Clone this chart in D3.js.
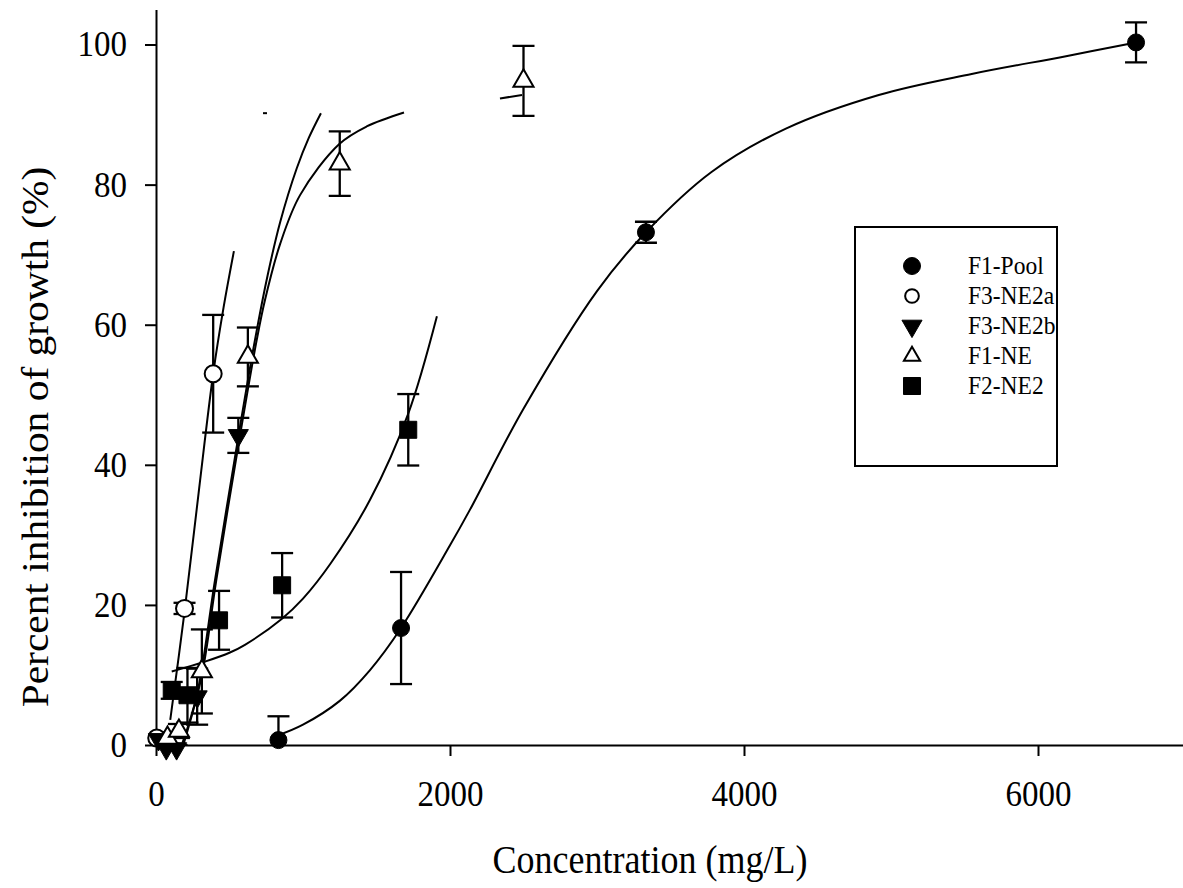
<!DOCTYPE html>
<html>
<head>
<meta charset="utf-8">
<script src="https://cdnjs.cloudflare.com/ajax/libs/d3/7.8.5/d3.min.js"></script>
<style>
  body { margin: 0; background: #fff; }
  svg { display: block; font-family: "Times New Roman", "Liberation Serif", serif; }
</style>
</head>
<body>
<svg id="chart" width="1183" height="888"></svg>
<script>
// measured points (concentration mg/L, % inhibition, +/- error)
const f1PoolX = [833, 1667, 3333, 6667];
const f1PoolY = [0.7, 16.7, 73.2, 100.3];
const f1PoolErr = [3.4, 8.0, 1.5, 2.85];

const f3Ne2aX = [5, 194, 389];
const f3Ne2aY = [1.0, 19.5, 53.0];
const f3Ne2aErr = [0.5, 0.8, 8.4];

const f3Ne2bX = [17, 70, 140, 280, 560];
const f3Ne2bY = [0.8, -0.5, -0.5, 6.9, 44.2];
const f3Ne2bErr = [0.5, 0.5, 0.5, 4.0, 2.5];

const f1NeX = [78, 156, 312, 625, 1250, 2500];
const f1NeY = [1.0, 2.0, 10.5, 55.4, 83.0, 94.8];
const f1NeErr = [0.8, 1.0, 6.0, 4.2, 4.6, 5.0];

const f2Ne2X = [107, 214, 429, 858, 1716];
const f2Ne2Y = [7.8, 7.1, 17.8, 22.8, 45.0];
const f2Ne2Err = [1.2, 3.9, 4.2, 4.6, 5.1];

// fitted curves
const fitF1PoolX = [833, 1000, 1250, 1456, 1667, 2000, 2136, 2500, 3000, 3333, 3779, 4285, 4917, 5549, 6182, 6667];
const fitF1PoolY = [1.4, 2.9, 6.3, 10.7, 16.7, 28.5, 33.6, 48.0, 64.8, 73.2, 81.8, 88.0, 92.8, 95.8, 98.3, 100.3];

const fitF3Ne2aX = [97, 194, 290, 389, 460, 530];
const fitF3Ne2aY = [3.6, 19.0, 36.0, 53.0, 62.5, 70.5];

const fitF3Ne2bX = [180, 280, 401, 560, 673, 762, 844, 957, 1040, 1122];
const fitF3Ne2bY = [0.3, 7.3, 23.5, 44.0, 57.8, 67.3, 74.6, 82.3, 86.7, 90.2];

const fitF1NeX = [190, 312, 410, 570, 685, 741, 844, 980, 1247, 1433, 1687];
const fitF1NeY = [0.3, 10.0, 23.5, 44.0, 57.8, 63.5, 71.5, 78.5, 85.8, 88.3, 90.3];

const fitF2Ne2X = [107, 333, 503, 605, 855, 1000, 1184, 1456, 1716, 1911];
const fitF2Ne2Y = [10.5, 11.9, 13.2, 14.3, 18.0, 20.9, 25.8, 35.0, 47.3, 61.2];

// two short stray strokes that appear in the original figure
const strayX = [[2340, 2490], [728, 755]];
const strayY = [[92.3, 92.8], [90.2, 90.2]];

const xTicks = [0, 2000, 4000, 6000];
const yTicks = [0, 20, 40, 60, 80, 100];

const seriesNames = ["F1-Pool", "F3-NE2a", "F3-NE2b", "F1-NE", "F2-NE2"];

const svg = d3.select("#chart");

const x = d3.scaleLinear().domain([0, 7000]).range([156, 1185]);
const y = d3.scaleLinear().domain([0, 105]).range([745, 9.5]);

// the original lettering is tall and narrow: stretch text vertically about its anchor
function stretch(sel, sy) {
  sel.each(function() {
    const t = d3.select(this);
    const tx = +t.attr("x") || 0, ty = +t.attr("y") || 0;
    t.attr("transform", `translate(${tx},${ty}) scale(1,${sy}) translate(${-tx},${-ty})`);
  });
}

svg.append("defs").append("clipPath").attr("id", "plotClip")
  .append("rect")
  .attr("x", x(0)).attr("y", y(105))
  .attr("width", x(7000) - x(0)).attr("height", y(0) - y(105));

// axes
const xAxis = svg.append("g")
  .attr("transform", `translate(0,${y(0)})`)
  .call(d3.axisBottom(x).tickValues(xTicks).tickFormat(d3.format("d"))
    .tickSize(11).tickSizeOuter(0).tickPadding(25));
const yAxis = svg.append("g")
  .attr("transform", `translate(${x(0)},0)`)
  .call(d3.axisLeft(y).tickValues(yTicks).tickSize(11).tickSizeOuter(0).tickPadding(18));

[xAxis, yAxis].forEach(g => {
  g.selectAll("path, line").attr("stroke", "#000").attr("stroke-width", 2);
  g.selectAll("text").attr("fill", "#000").style("font-size", "33px")
    .style("font-family", '"Times New Roman", "Liberation Serif", serif');
});
yAxis.selectAll("text").attr("dy", "0.32em");
stretch(xAxis.selectAll("text"), 1.08);
stretch(yAxis.selectAll("text"), 1.08);

const xTitle = svg.append("text")
  .attr("x", 650).attr("y", 873)
  .attr("text-anchor", "middle")
  .style("font-size", "36px")
  .text("Concentration (mg/L)");
stretch(xTitle, 1.12);

svg.append("text")
  .attr("transform", `translate(48,437) rotate(-90) scale(1.12,1)`)
  .attr("text-anchor", "middle")
  .style("font-size", "37px")
  .text("Percent inhibition of growth (%)");

// fitted curves
const fits = [
  [fitF1PoolX, fitF1PoolY], [fitF3Ne2aX, fitF3Ne2aY], [fitF3Ne2bX, fitF3Ne2bY],
  [fitF1NeX, fitF1NeY], [fitF2Ne2X, fitF2Ne2Y]
];
const line = d3.line().x(d => x(d[0])).y(d => y(d[1])).curve(d3.curveCatmullRom.alpha(0.5));
fits.forEach(([xs, ys]) => {
  svg.append("path")
    .datum(xs.map((v, i) => [v, ys[i]]))
    .attr("d", line)
    .attr("fill", "none").attr("stroke", "#000").attr("stroke-width", 2);
});
strayX.forEach((xs, k) => {
  svg.append("path")
    .datum(xs.map((v, i) => [v, strayY[k][i]]))
    .attr("d", d3.line().x(d => x(d[0])).y(d => y(d[1])))
    .attr("fill", "none").attr("stroke", "#000").attr("stroke-width", 2);
});

// points
const series = [
  { xs: f1PoolX, ys: f1PoolY, err: f1PoolErr, shape: "circle", fill: "#000" },
  { xs: f3Ne2aX, ys: f3Ne2aY, err: f3Ne2aErr, shape: "circle", fill: "#fff" },
  { xs: f3Ne2bX, ys: f3Ne2bY, err: f3Ne2bErr, shape: "triDown", fill: "#000" },
  { xs: f1NeX, ys: f1NeY, err: f1NeErr, shape: "triUp", fill: "#fff" },
  { xs: f2Ne2X, ys: f2Ne2Y, err: f2Ne2Err, shape: "square", fill: "#000" }
];

function symbolPath(shape, k) {
  if (shape === "circle") return d3.symbol(d3.symbolCircle, 227 * k)();
  if (shape === "square") return d3.symbol(d3.symbolSquare, 289 * k)();
  return d3.symbol(d3.symbolTriangle, 175 * k)();
}
function drawSymbol(g, shape, fill, cx, cy, k = 1) {
  g.append("path")
    .attr("d", symbolPath(shape, k))
    .attr("transform", `translate(${cx},${cy})` + (shape === "triDown" ? " rotate(180)" : ""))
    .attr("fill", fill)
    .attr("stroke", "#000")
    .attr("stroke-width", fill === "#fff" ? 2 : 1);
}

const errG = svg.append("g").attr("clip-path", "url(#plotClip)");
const capW = 11;
series.forEach(s => {
  s.xs.forEach((v, i) => {
    const cx = x(v), top = y(s.ys[i] + s.err[i]), bot = y(s.ys[i] - s.err[i]);
    errG.append("line").attr("x1", cx).attr("x2", cx).attr("y1", top).attr("y2", bot)
      .attr("stroke", "#000").attr("stroke-width", 2.3);
    [top, bot].forEach(ey => {
      errG.append("line").attr("x1", cx - capW).attr("x2", cx + capW).attr("y1", ey).attr("y2", ey)
        .attr("stroke", "#000").attr("stroke-width", 2.3);
    });
  });
});

const ptG = svg.append("g");
series.forEach(s => {
  s.xs.forEach((v, i) => drawSymbol(ptG, s.shape, s.fill, x(v), y(s.ys[i])));
});

// legend
const legend = svg.append("g");
legend.append("rect")
  .attr("x", 855).attr("y", 227).attr("width", 202).attr("height", 239)
  .attr("fill", "#fff").attr("stroke", "#000").attr("stroke-width", 2);
series.forEach((s, i) => {
  const ly = 266 + i * 30;
  drawSymbol(legend, s.shape, s.fill, 912, ly, s.fill === "#fff" ? 0.65 : 1);
  const t = legend.append("text")
    .attr("x", 968).attr("y", ly + 8)
    .style("font-size", "23.5px")
    .text(seriesNames[i]);
  stretch(t, 1.1);
});
</script>
</body>
</html>
